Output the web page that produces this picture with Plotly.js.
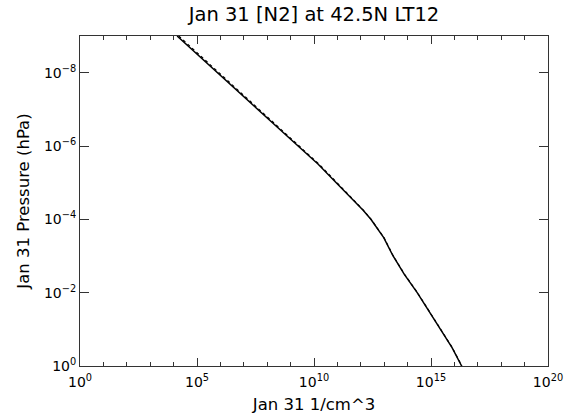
<!DOCTYPE html>
<html>
<head>
<meta charset="utf-8">
<script src="https://cdn.plot.ly/plotly-3.0.1.min.js"></script>
<style>
  html, body { margin: 0; padding: 0; background: #fff; }
  #chart { width: 567px; height: 420px; }
</style>
</head>
<body>
<div id="chart"></div>
<script>
// Pressure levels (hPa) and N2 number density (1/cm^3), Jan 31, 42.5N, LT12
const pressure = [1e-9, 3.16e-9, 1e-8, 3.16e-8, 1e-7, 3.16e-7, 1e-6, 3.16e-6,
                  1e-5, 3.16e-5, 5.62e-5, 1e-4, 3.16e-4, 1e-3, 3.16e-3,
                  1e-2, 3.16e-2, 1e-1, 3.16e-1, 1];
const logDensityModel = [4.15, 5.01, 5.87, 6.74, 7.60, 8.46, 9.33, 10.18,
                         10.95, 11.72, 12.10, 12.43, 12.98, 13.38, 13.86,
                         14.41, 14.91, 15.42, 15.90, 16.31];
const logDensityRef   = [4.22, 5.08, 5.94, 6.80, 7.66, 8.51, 9.37, 10.22,
                         10.98, 11.74, 12.11, 12.44, 12.99, 13.39, 13.87,
                         14.42, 14.92, 15.43, 15.91, 16.32];

const densityModel = logDensityModel.map(v => Math.pow(10, v));
const densityRef = logDensityRef.map(v => Math.pow(10, v));

const xTickVals = [1, 1e5, 1e10, 1e15, 1e20];
const xTickText = ['10<sup>0</sup>', '10<sup>5</sup>', '10<sup>10</sup>', '10<sup>15</sup>', '10<sup>20</sup>'];
const yTickVals = [1e-8, 1e-6, 1e-4, 1e-2, 1];
const yTickText = ['10<sup>\u22128</sup>', '10<sup>\u22126</sup>', '10<sup>\u22124</sup>', '10<sup>\u22122</sup>', '10<sup>0</sup>'];

const FONT = 'DejaVu Sans, sans-serif';
const AXIS_COLOR = '#333';

const traces = [
  {
    x: densityRef, y: pressure, type: 'scatter', mode: 'lines',
    line: {color: '#000', width: 1.2, dash: 'dot'},
    hoverinfo: 'skip', showlegend: false
  },
  {
    x: densityModel, y: pressure, type: 'scatter', mode: 'lines',
    line: {color: '#000', width: 1.5},
    showlegend: false
  }
];

const layout = {
  width: 567, height: 420,
  margin: {l: 80, r: 19, t: 36, b: 54},
  paper_bgcolor: '#fff', plot_bgcolor: '#fff',
  font: {family: FONT, color: '#000', size: 13},
  title: {
    text: 'Jan 31 [N2] at 42.5N LT12',
    font: {family: FONT, size: 19.5, color: '#000'},
    x: 0.5, xref: 'paper', xanchor: 'center',
    y: 1, yref: 'container', yanchor: 'top', pad: {t: 7}
  },
  xaxis: {
    type: 'log', range: [-0.0001, 20.0001], autorange: false,
    tickmode: 'array', tickvals: xTickVals, ticktext: xTickText,
    ticks: 'inside', ticklen: 8, tickwidth: 1, tickcolor: AXIS_COLOR,
    minor: {dtick: 1, ticks: 'inside', ticklen: 4, tickwidth: 1, tickcolor: AXIS_COLOR, showgrid: false},
    showline: true, linecolor: AXIS_COLOR, linewidth: 1, mirror: 'ticks',
    showgrid: false, zeroline: false,
    ticklabelstandoff: 3,
    tickfont: {family: FONT, size: 14},
    title: {text: 'Jan 31 1/cm^3', font: {family: FONT, size: 16.5}, standoff: 9}
  },
  yaxis: {
    type: 'log', range: [0.0001, -9], autorange: false,
    tickmode: 'array', tickvals: yTickVals, ticktext: yTickText,
    ticks: 'inside', ticklen: 9, tickwidth: 1, tickcolor: AXIS_COLOR,
    showline: true, linecolor: AXIS_COLOR, linewidth: 1, mirror: 'ticks',
    showgrid: false, zeroline: false,
    tickfont: {family: FONT, size: 14},
    title: {text: 'Jan 31 Pressure (hPa)', font: {family: FONT, size: 16.5}, standoff: 10}
  }
};

Plotly.newPlot('chart', traces, layout, {displayModeBar: false, staticPlot: true});
</script>
</body>
</html>
